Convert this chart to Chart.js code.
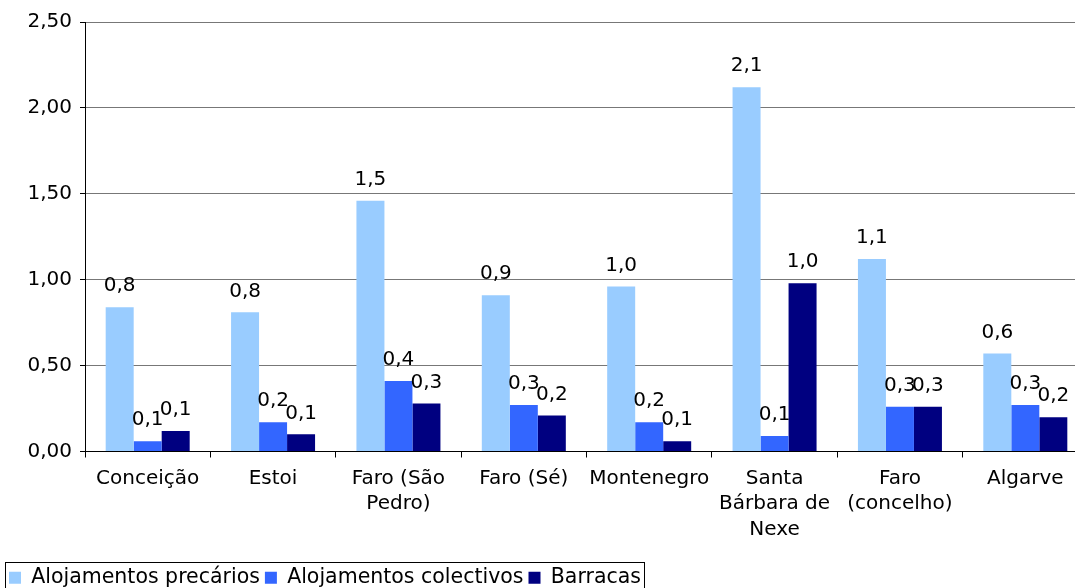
<!DOCTYPE html>
<html>
<head>
<meta charset="utf-8">
<script src="https://cdn.jsdelivr.net/npm/chart.js@4/dist/chart.umd.min.js"></script>
<style>
  html, body { margin: 0; padding: 0; background: #fff; overflow: hidden; }
  /* slightly larger than the window: the original plot runs off the right and bottom edge */
  #wrap { width: 1088px; height: 598px; }
</style>
</head>
<body>
<div id="wrap"><canvas id="chart"></canvas></div>
<script>
// categories (multi-line labels as in the original)
const categories = [
    ['Conceição'],
    ['Estoi'],
    ['Faro (São', 'Pedro)'],
    ['Faro (Sé)'],
    ['Montenegro'],
    ['Santa', 'Bárbara de', 'Nexe'],
    ['Faro', '(concelho)'],
    ['Algarve']
];

const seriesNames = ['Alojamentos precários', 'Alojamentos colectivos', 'Barracas'];

const precarios = [0.84, 0.81, 1.46, 0.91, 0.96, 2.12, 1.12, 0.57];
const colectivos = [0.06, 0.17, 0.41, 0.27, 0.17, 0.09, 0.26, 0.27];
const barracas = [0.12, 0.10, 0.28, 0.21, 0.06, 0.98, 0.26, 0.20];

const yTicks = [0, 0.5, 1, 1.5, 2, 2.5];

const colors = ['#99CCFF', '#3366FF', '#000080'];
const fontFamily = '"DejaVu Sans", Verdana, sans-serif';

Chart.defaults.font.family = fontFamily;
Chart.defaults.font.size = 20;
Chart.defaults.color = '#000';

// value labels above each bar
const valueLabels = {
    id: 'valueLabels',
    afterDatasetsDraw(chart) {
        const ctx = chart.ctx;
        ctx.save();
        ctx.font = '20px ' + fontFamily;
        ctx.fillStyle = '#000';
        ctx.textAlign = 'center';
        ctx.textBaseline = 'middle';
        chart.data.datasets.forEach((ds, i) => {
            chart.getDatasetMeta(i).data.forEach((bar, j) => {
                const txt = ds.data[j].toFixed(1).replace('.', ',');
                ctx.fillText(txt, bar.x, bar.y - 21);
            });
        });
        ctx.restore();
    }
};

// box round the legend
const legendBox = {
    id: 'legendBox',
    afterDraw(chart) {
        const boxes = chart.legend.legendHitBoxes;
        if (!boxes || !boxes.length) return;
        const last = boxes[boxes.length - 1];
        const ctx = chart.ctx;
        ctx.save();
        ctx.strokeStyle = '#000';
        ctx.lineWidth = 1;
        const x0 = 5.5;
        const y0 = Math.round(boxes[0].top - 5.5) + 0.5;
        const x1 = Math.round(last.left + last.width) + 3.5;
        ctx.strokeRect(x0, y0, x1 - x0, 60);
        ctx.restore();
    }
};

const ctx = document.getElementById('chart').getContext('2d');
new Chart(ctx, {
    type: 'bar',
    data: {
        labels: categories,
        datasets: [
            { label: seriesNames[0], data: precarios, backgroundColor: colors[0] },
            { label: seriesNames[1], data: colectivos, backgroundColor: colors[1] },
            { label: seriesNames[2], data: barracas, backgroundColor: colors[2] }
        ]
    },
    options: {
        responsive: true,
        maintainAspectRatio: false,
        animation: false,
        layout: { padding: { top: 22, left: 4, right: 0, bottom: 0 } },
        datasets: {
            bar: { categoryPercentage: 0.67, barPercentage: 1, borderWidth: 0 }
        },
        plugins: {
            legend: {
                position: 'bottom',
                align: 'start',
                labels: {
                    boxWidth: 12,
                    boxHeight: 12,
                    padding: 5,
                    color: '#000',
                    font: { size: 20.5, family: fontFamily }
                }
            },
            tooltip: { enabled: false }
        },
        scales: {
            x: {
                grid: {
                    offset: true,
                    drawOnChartArea: false,
                    drawTicks: true,
                    tickLength: 6,
                    tickColor: '#000'
                },
                border: { color: '#000', width: 1 },
                ticks: {
                    padding: 8,
                    maxRotation: 0,
                    autoSkip: false,
                    color: '#000',
                    font: { size: 20, lineHeight: 1.28 }
                },
                afterFit(scale) { scale.height = 111; }
            },
            y: {
                min: 0,
                max: 2.5,
                afterBuildTicks(scale) {
                    scale.ticks = yTicks.map(v => ({ value: v }));
                },
                grid: {
                    color: '#777',
                    tickColor: '#000',
                    tickLength: 5
                },
                border: { color: '#000', width: 1 },
                ticks: {
                    padding: 8,
                    color: '#000',
                    font: { size: 20 },
                    callback: v => v.toFixed(2).replace('.', ',')
                },
                afterFit(scale) { scale.width = 81; }
            }
        }
    },
    plugins: [valueLabels, legendBox]
});
</script>
</body>
</html>
